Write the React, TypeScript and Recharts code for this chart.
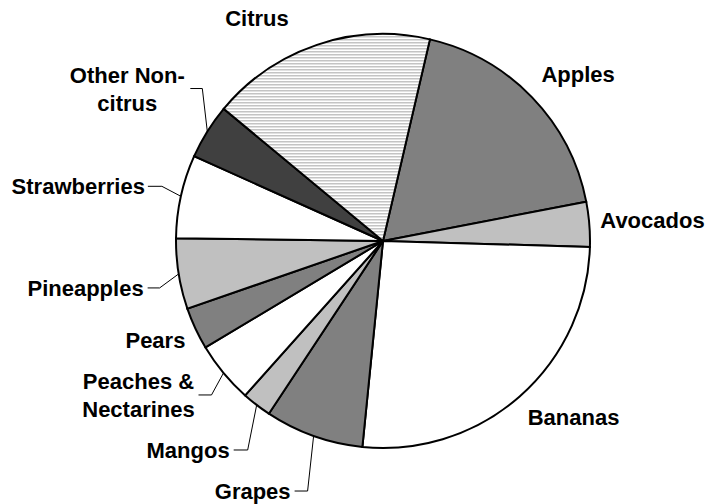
import { PieChart, Pie, Cell } from "recharts";

const FRUITS = [
  "Apples",
  "Avocados",
  "Bananas",
  "Grapes",
  "Mangos",
  "Peaches & Nectarines",
  "Pears",
  "Pineapples",
  "Strawberries",
  "Other Non-citrus",
  "Citrus",
];
const SHARES = [18.3, 3.5, 26.1, 7.7, 2.3, 4.8, 3.3, 5.5, 6.5, 4.3, 17.6];
const LABEL_LINES = [
  ["Apples"],
  ["Avocados"],
  ["Bananas"],
  ["Grapes"],
  ["Mangos"],
  ["Peaches &", "Nectarines"],
  ["Pears"],
  ["Pineapples"],
  ["Strawberries"],
  ["Other Non-", "citrus"],
  ["Citrus"],
];
const FILLS = [
  "#808080",
  "#c0c0c0",
  "#ffffff",
  "#808080",
  "#c0c0c0",
  "#ffffff",
  "#808080",
  "#c0c0c0",
  "#ffffff",
  "#404040",
  "url(#citrusStripes)",
];

const data = FRUITS.map((name, i) => ({ name, value: SHARES[i] }));

// label placement relative to the point on the rim at the slice's mid angle
// elbow: leader line bend; tx/ty: text anchor
type Layout = {
  elbow?: [number, number];
  run?: number;
  tx: number;
  ty: number;
  anchor: "start" | "middle" | "end";
};
const LAYOUT: Layout[] = [
  { tx: 46, ty: -23, anchor: "middle" },
  { tx: 11, ty: -4, anchor: "start" },
  { tx: 8, ty: 21, anchor: "start" },
  { elbow: [-6, 55], run: 13, tx: -23, ty: 55, anchor: "end" },
  { elbow: [-9, 45], run: 14, tx: -27, ty: 45, anchor: "end" },
  { elbow: [-12, 22], run: 13, tx: -85, ty: 22, anchor: "middle" },
  { tx: -10, ty: 11, anchor: "end" },
  { elbow: [-19, 14], run: 12, tx: -35, ty: 14, anchor: "end" },
  { elbow: [-19, -10], run: 14, tx: -36, ty: -10, anchor: "end" },
  { elbow: [-5, -43], run: 12, tx: -80, ty: -43, anchor: "middle" },
  { tx: -60, ty: -27, anchor: "middle" },
];

const RADIAN = Math.PI / 180;
const LINE_H = 28;

function renderLabel(props: any) {
  const { cx, cy, midAngle, outerRadius, index } = props;
  const x = cx + outerRadius * Math.cos(-midAngle * RADIAN);
  const y = cy + outerRadius * Math.sin(-midAngle * RADIAN);
  const lay = LAYOUT[index];
  const lines = LABEL_LINES[index];
  const tx = x + lay.tx;
  const ty = y + lay.ty - ((lines.length - 1) * LINE_H) / 2;
  return (
    <g key={`lbl-${index}`}>
      {lay.elbow && (
        <polyline
          points={`${x},${y} ${x + lay.elbow[0]},${y + lay.elbow[1]} ${
            x + lay.elbow[0] - (lay.run || 0)
          },${y + lay.elbow[1]}`}
          fill="none"
          stroke="#000"
          strokeWidth={1}
        />
      )}
      <text
        x={tx}
        y={ty}
        textAnchor={lay.anchor}
        dominantBaseline="central"
        fontFamily="'Liberation Sans', Arial, sans-serif"
        fontWeight="bold"
        fontSize={22}
        fill="#000"
      >
        {lines.map((ln, i) => (
          <tspan key={i} x={tx} dy={i === 0 ? 0 : LINE_H}>
            {ln}
          </tspan>
        ))}
      </text>
    </g>
  );
}

export default function App() {
  return (
    <div style={{ position: "absolute", left: 0, top: 0, width: 707, height: 504, background: "#fff" }}>
      <PieChart width={707} height={504} margin={{ top: 0, right: 0, bottom: 0, left: 0 }}>
        <defs>
          <pattern id="citrusStripes" patternUnits="userSpaceOnUse" width={4} height={3}>
            <rect width={4} height={3} fill="#ffffff" />
            <rect width={4} height={1.5} fill="#c4c4c4" />
          </pattern>
        </defs>
        <Pie
          data={data}
          dataKey="value"
          nameKey="name"
          cx={383}
          cy={241}
          outerRadius={207}
          startAngle={76.9}
          endAngle={-283.1}
          stroke="#000"
          strokeWidth={2}
          label={renderLabel}
          labelLine={false}
          isAnimationActive={false}
        >
          {data.map((d, i) => (
            <Cell key={d.name} fill={FILLS[i]} stroke="#000" strokeWidth={2} />
          ))}
        </Pie>
      </PieChart>
    </div>
  );
}
